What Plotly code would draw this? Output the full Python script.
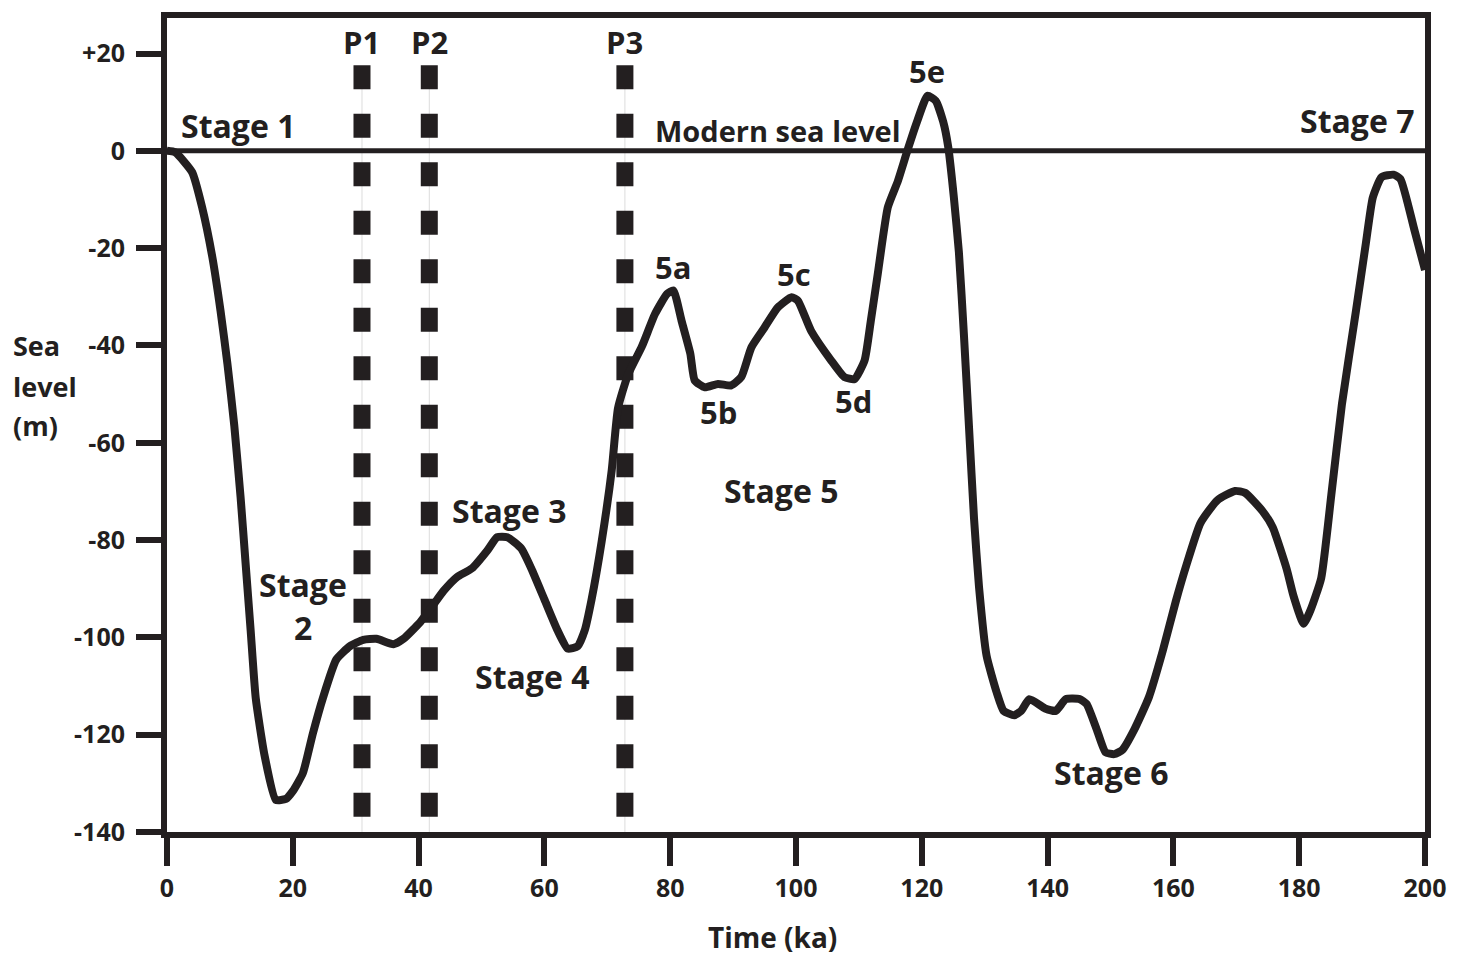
import plotly.graph_objects as go

# ---- data ----
time_ka = [0, 1.3, 4.0, 5.6, 7.2, 8.5, 9.6, 10.7, 11.7, 12.5, 13.3, 14.1, 15.5, 17.3, 18.9,
           20.0, 21.6, 23.2, 24.8, 26.9, 29.1, 31.2, 33.3, 36.0, 37.6, 40.3, 41.9, 44.0,
           46.1, 48.5, 50.9, 52.5, 54.1, 56.3, 57.9, 60.0, 62.1, 63.7, 65.3, 66.4, 67.5,
           69.1, 70.7, 71.7, 73.3, 75.5, 77.6, 79.5, 80.5, 81.8, 83.2, 83.9, 85.5, 87.6,
           89.7, 91.3, 92.9, 95.0, 97.1, 99.3, 100.3, 102.4, 105.6, 107.7, 109.3, 110.9,
           111.9, 113.0, 114.6, 116.2, 117.7, 119.3, 120.9, 122.2, 123.4, 124.2, 125.1,
           125.9, 126.7, 127.5, 128.3, 129.1, 130.3, 131.9, 133.0, 134.7, 135.8, 137.1,
           139.6, 141.3, 142.9, 145.1, 146.2, 147.8, 149.2, 150.6, 151.9, 153.8, 156.1,
           158.3, 160.4, 162.1, 164.3, 167.0, 169.8, 171.4, 174.2, 175.8, 178.0, 179.1,
           180.7, 181.8, 183.5, 185.1, 186.8, 189.0, 190.6, 191.7, 193.1, 195.0, 196.1,
           198.3, 200.0]
sea_level_m = [0, -0.3, -4.4, -11.7, -21.8, -32.8, -43.7, -56.5, -71.2, -84.9, -98.6, -112.4,
               -124.2, -133.4, -133.2, -131.6, -127.9, -119.7, -112.4, -104.6, -101.8, -100.5,
               -100.3, -101.4, -100.3, -96.8, -94.1, -90.4, -87.6, -85.8, -82.2, -79.4, -79.4,
               -81.7, -85.8, -92.2, -98.6, -102.3, -101.8, -98.6, -92.2, -80.3, -65.7, -52.9,
               -46.0, -40.2, -33.5, -29.4, -28.7, -34.9, -41.7, -47.2, -48.6, -47.9, -48.2,
               -46.5, -40.4, -36.3, -32.2, -30.1, -30.8, -37.0, -43.1, -46.5, -46.9, -43.1,
               -34.9, -25.3, -11.6, -6.2, 0.0, 6.2, 11.3, 10.3, 6.0, 0.8, -9.6, -20.9, -37.9,
               -56.7, -75.5, -89.7, -103.8, -111.3, -115.1, -116.0, -115.1, -112.7, -114.6,
               -115.1, -112.7, -112.7, -113.7, -118.9, -123.6, -124.0, -123.1, -118.9, -112.3,
               -102.8, -92.5, -85.0, -76.5, -71.8, -69.9, -70.3, -74.1, -77.4, -85.9, -91.5,
               -97.2, -94.4, -87.8, -70.8, -52.0, -33.1, -19.0, -9.6, -5.4, -4.9, -5.8,
               -16.2, -24.5]

x_ticks = [0, 20, 40, 60, 80, 100, 120, 140, 160, 180, 200]
y_ticks = [20, 0, -20, -40, -60, -80, -100, -120, -140]
y_ticktext = ["+20", "0", "-20", "-40", "-60", "-80", "-100", "-120", "-140"]

profile_names = ["P1", "P2", "P3"]
profile_times = [31.0, 41.7, 72.8]

labels = ["Stage 1", "Modern sea level", "5e", "5a", "5b", "5c", "5d", "Stage 5",
          "Stage 3", "Stage 4", "Stage", "2", "Stage 6", "Stage 7"]
label_x = [11.3, 97.1, 120.8, 80.5, 87.6, 99.7, 109.2, 97.6, 54.4, 58.0, 21.6, 21.6, 150.1, 189.2]
label_y = [5.2, 4.2, 16.4, -23.8, -53.6, -25.3, -51.5, -69.8, -73.9, -108.0, -89.2, -98.0, -127.8, 6.2]
label_size = [32, 29, 31, 31, 31, 31, 31, 32, 32, 32, 32, 32, 32, 32]

INK = "#231f20"
FONT = "Open Sans"

fig = go.Figure()

# thin faint guide lines behind the dashed profiles
for t in profile_times:
    fig.add_shape(type="line", xref="x", yref="y", x0=t, x1=t, y0=17.4, y1=-140,
                  line=dict(color="#dcdcdc", width=1), layer="below")
    fig.add_shape(type="line", xref="x", yref="y", x0=t, x1=t, y0=17.6, y1=-137,
                  line=dict(color=INK, width=17, dash="24px,24.5px"), layer="below")

# modern sea level line
fig.add_shape(type="line", xref="x", yref="y", x0=0, x1=200, y0=0, y1=0,
              line=dict(color=INK, width=5), layer="below")

fig.add_trace(go.Scatter(x=time_ka, y=sea_level_m, mode="lines",
                         line=dict(color=INK, width=8, shape="spline", smoothing=0.5),
                         hoverinfo="skip", showlegend=False))

for name, t in zip(profile_names, profile_times):
    fig.add_annotation(x=t, y=22.3, xref="x", yref="y", text=name, showarrow=False,
                       xanchor="center", yanchor="middle",
                       font=dict(family=FONT, size=31, color=INK, weight="bold"))

for txt, lx, ly, ls in zip(labels, label_x, label_y, label_size):
    fig.add_annotation(x=lx, y=ly, xref="x", yref="y", text=txt, showarrow=False,
                       xanchor="center", yanchor="middle",
                       font=dict(family=FONT, size=ls, color=INK, weight="bold"))

# y-axis title (three lines, left aligned)
for txt, py in zip(["Sea", "level", "(m)"], [0.598, 0.547, 0.500]):
    fig.add_annotation(x=-0.124, y=py, xref="paper", yref="paper", text=txt, showarrow=False,
                       xanchor="left", yanchor="middle",
                       font=dict(family=FONT, size=27, color=INK, weight="bold"))

# x-axis title
fig.add_annotation(x=0.4815, y=-0.129, xref="paper", yref="paper", text="Time (ka)",
                   showarrow=False, xanchor="center", yanchor="middle",
                   font=dict(family=FONT, size=28, color=INK, weight="bold"))

fig.update_layout(
    width=1458, height=959, autosize=False,
    margin=dict(l=167, r=29, t=17, b=127, pad=0),
    paper_bgcolor="white", plot_bgcolor="white",
    showlegend=False,
    xaxis=dict(range=[0, 200], tickvals=x_ticks, ticks="outside", ticklen=28, tickwidth=6,
               tickcolor=INK, showline=True, linewidth=6, linecolor=INK, mirror=True,
               showgrid=False, zeroline=False, ticklabelstandoff=1,
               tickfont=dict(family=FONT, size=25, color=INK, weight="bold")),
    yaxis=dict(range=[-140, 27.3], tickvals=y_ticks, ticktext=y_ticktext, ticks="outside",
               ticklen=25, tickwidth=6, tickcolor=INK, showline=True, linewidth=6,
               linecolor=INK, mirror=True, showgrid=False, zeroline=False,
               ticklabelstandoff=6,
               tickfont=dict(family=FONT, size=25, color=INK, weight="bold")),
)

fig.write_html("out.html")
